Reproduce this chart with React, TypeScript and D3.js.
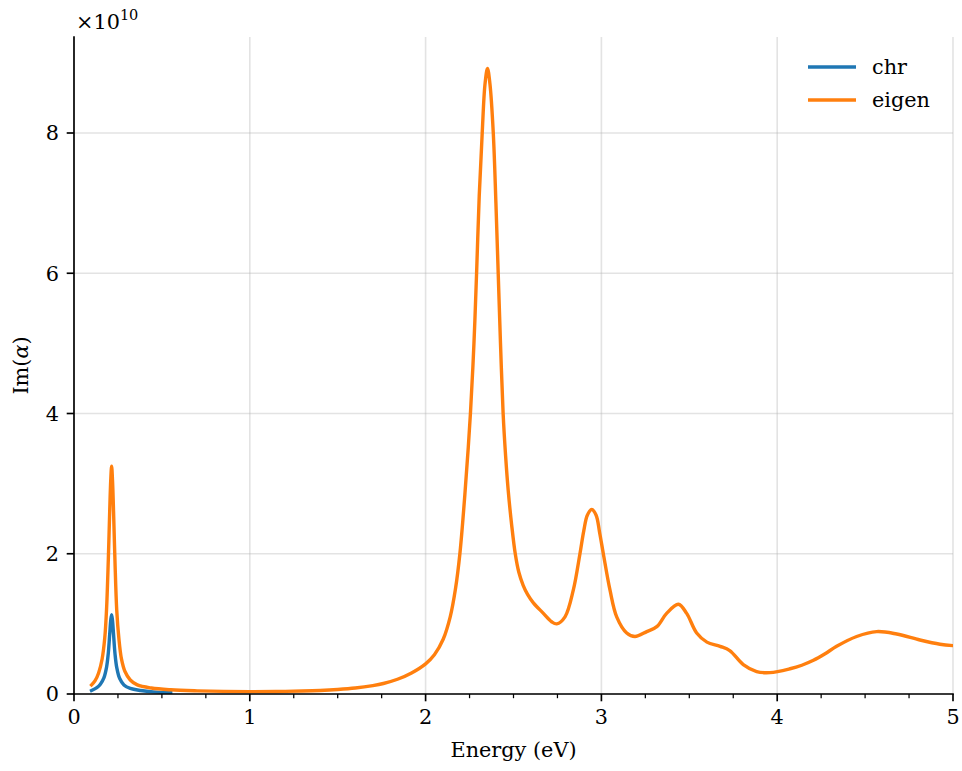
import React from "react";
import * as d3 from "d3";

// Energy grid (eV) and imaginary polarizability (units of 1e10) for each method
const chrEnergy = [0.1, 0.13, 0.15, 0.17, 0.185, 0.195, 0.203, 0.209, 0.214, 0.219, 0.225, 0.233, 0.243, 0.26, 0.284, 0.32, 0.38, 0.45, 0.55];
const chrValue = [0.05, 0.09, 0.14, 0.23, 0.38, 0.58, 0.85, 1.05, 1.13, 1.05, 0.85, 0.58, 0.38, 0.22, 0.13, 0.08, 0.05, 0.03, 0.02];

const eigenEnergy = [
  0.1, 0.12, 0.14, 0.16, 0.175, 0.185, 0.195, 0.203, 0.209, 0.214, 0.219, 0.225, 0.233, 0.243, 0.255, 0.27, 0.29, 0.32, 0.36, 0.44,
  0.55, 0.7, 0.85, 1.0, 1.15, 1.3, 1.4, 1.5, 1.6, 1.7, 1.76, 1.84, 1.92, 2.0, 2.05, 2.1, 2.14, 2.17, 2.195, 2.225,
  2.255, 2.275, 2.29, 2.305, 2.322, 2.338, 2.352, 2.366, 2.385, 2.4, 2.413, 2.426, 2.441, 2.455, 2.47, 2.49, 2.51, 2.53, 2.555, 2.58,
  2.613, 2.67, 2.717, 2.746, 2.793, 2.84, 2.878, 2.9, 2.92, 2.945, 2.97, 2.99, 3.011, 3.049, 3.087, 3.144, 3.191, 3.258, 3.315, 3.371,
  3.438, 3.485, 3.542, 3.6, 3.675, 3.73, 3.807, 3.883, 3.959, 4.073, 4.14, 4.206, 4.27, 4.338, 4.452, 4.566, 4.68, 4.812, 4.926, 5.0,
];
const eigenValue = [
  0.13, 0.19, 0.3, 0.5, 0.8, 1.2, 1.9, 2.6, 3.05, 3.25, 3.05, 2.6, 1.9, 1.2, 0.8, 0.5, 0.32, 0.2, 0.13, 0.085,
  0.06, 0.045, 0.037, 0.034, 0.036, 0.042, 0.05, 0.064, 0.085, 0.12, 0.15, 0.21, 0.3, 0.43, 0.56, 0.78, 1.1, 1.5, 2.0, 2.9,
  4.0, 5.0, 6.0, 7.1, 8.0, 8.7, 8.92, 8.7, 8.0, 7.0, 6.0, 5.0, 4.0, 3.4, 2.9, 2.4, 2.0, 1.74, 1.55, 1.42,
  1.3, 1.15, 1.03, 1.0, 1.1, 1.48, 2.0, 2.33, 2.55, 2.63, 2.55, 2.3, 2.0, 1.48, 1.1, 0.87, 0.82, 0.89, 0.96, 1.15,
  1.28, 1.15, 0.87, 0.74, 0.68, 0.62, 0.42, 0.32, 0.305, 0.36, 0.41, 0.48, 0.57, 0.68, 0.82, 0.89, 0.855, 0.77, 0.71, 0.69,
];

const seriesNames = ["chr", "eigen"];
const seriesColors = ["#1f77b4", "#ff7f0e"];

const xMajorTicks = [0, 1, 2, 3, 4, 5];
const xMinorTicks = d3.range(0, 5.001, 0.25).filter((t) => Math.abs(t - Math.round(t)) > 1e-6);
const yMajorTicks = [0, 2, 4, 6, 8];

const W = 962;
const H = 771;
const plot = { left: 74, right: 953, top: 37, bottom: 694 };
const FONT = "'DejaVu Serif', serif";
const FS = 20.8;

export default function App() {
  const x = d3.scaleLinear().domain([0, 5]).range([plot.left, plot.right]);
  const y = d3.scaleLinear().domain([0, 9.369]).range([plot.bottom, plot.top]);

  const line = d3
    .line<[number, number]>()
    .x((d) => x(d[0]))
    .y((d) => y(d[1]))
    .curve(d3.curveCatmullRom.alpha(0.5));

  const chrPts = chrEnergy.map((e, i) => [e, chrValue[i]] as [number, number]);
  const eigenPts = eigenEnergy.map((e, i) => [e, eigenValue[i]] as [number, number]);
  const paths = [line(chrPts) || "", line(eigenPts) || ""];

  return (
    <svg
      width={W}
      height={H}
      style={{ position: "absolute", left: 0, top: 0, background: "#fff" }}
      fontFamily={FONT}
    >
      <defs>
        <clipPath id="plot-area">
          <rect x={plot.left} y={plot.top} width={plot.right - plot.left} height={plot.bottom - plot.top} />
        </clipPath>
      </defs>

      {/* grid */}
      <g stroke="#b0b0b0" strokeOpacity={0.35} strokeWidth={1.6}>
        {xMajorTicks.map((t) => (
          <line key={"gx" + t} x1={x(t)} x2={x(t)} y1={plot.top} y2={plot.bottom} />
        ))}
        {yMajorTicks.map((t) => (
          <line key={"gy" + t} x1={plot.left} x2={plot.right} y1={y(t)} y2={y(t)} />
        ))}
      </g>

      {/* series */}
      <g clipPath="url(#plot-area)" fill="none" strokeWidth={3.4} strokeLinejoin="round" strokeLinecap="square">
        {paths.map((p, i) => (
          <path key={seriesNames[i]} d={p} stroke={seriesColors[i]} />
        ))}
      </g>

      {/* spines */}
      <g stroke="#000" strokeWidth={1.67} strokeLinecap="square">
        <line x1={plot.left} x2={plot.left} y1={plot.top} y2={plot.bottom} />
        <line x1={plot.left} x2={plot.right} y1={plot.bottom} y2={plot.bottom} />
      </g>

      {/* ticks */}
      <g stroke="#000">
        {xMajorTicks.map((t) => (
          <line key={"xt" + t} x1={x(t)} x2={x(t)} y1={plot.bottom} y2={plot.bottom + 7.3} strokeWidth={1.67} />
        ))}
        {xMinorTicks.map((t) => (
          <line key={"xm" + t} x1={x(t)} x2={x(t)} y1={plot.bottom} y2={plot.bottom + 4.2} strokeWidth={1.25} />
        ))}
        {yMajorTicks.map((t) => (
          <line key={"yt" + t} x1={plot.left - 7.3} x2={plot.left} y1={y(t)} y2={y(t)} strokeWidth={1.67} />
        ))}
      </g>

      <g fontSize={FS} fill="#000">
        {xMajorTicks.map((t) => (
          <text key={"xl" + t} x={x(t)} y={plot.bottom + 30} textAnchor="middle">
            {d3.format("d")(t)}
          </text>
        ))}
        {yMajorTicks.map((t) => (
          <text key={"yl" + t} x={plot.left - 15} y={y(t)} dy="0.36em" textAnchor="end">
            {d3.format("d")(t)}
          </text>
        ))}
      </g>

      {/* offset text */}
      <text x={76} y={29} fontSize={FS} fill="#000">
        ×10
        <tspan fontSize={14.5} dy={-9}>
          10
        </tspan>
      </text>

      {/* axis labels */}
      <text x={(plot.left + plot.right) / 2} y={757} fontSize={FS} textAnchor="middle" fill="#000">
        Energy (eV)
      </text>
      <text
        transform={`translate(28, ${(plot.top + plot.bottom) / 2}) rotate(-90)`}
        fontSize={FS}
        textAnchor="middle"
        fill="#000"
      >
        Im(<tspan fontStyle="italic">α</tspan>)
      </text>

      {/* legend */}
      <g fontSize={FS} fill="#000">
        {seriesNames.map((n, i) => (
          <g key={n} transform={`translate(0, ${67 + i * 33})`}>
            <line x1={808} x2={856} y1={0} y2={0} stroke={seriesColors[i]} strokeWidth={3.4} />
            <text x={872} y={0} dy="0.32em">
              {n}
            </text>
          </g>
        ))}
      </g>
    </svg>
  );
}
